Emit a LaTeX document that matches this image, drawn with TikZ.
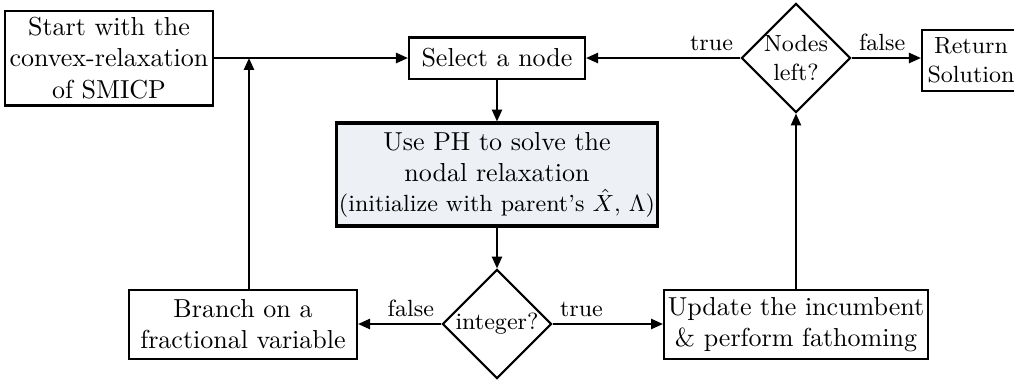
\documentclass[tikz,border=0pt]{standalone}
\usetikzlibrary{arrows.meta,shapes.geometric}
\definecolor{phfill}{RGB}{237,241,245}
\tikzset{
  box/.style={draw, thick, rectangle, align=center, inner sep=1pt},
  decision/.style={draw, thick, diamond, aspect=1, inner sep=0pt,
    minimum width=41.9pt, minimum height=41.9pt},
  dtext/.style={font=\small, align=center, inner sep=0pt},
  flow/.style={thick, -{Triangle[length=4.6pt,width=3.9pt]}},
  edgelabel/.style={font=\small, inner sep=2.5pt},
}
\begin{document}
\begin{tikzpicture}[x=0.3846pt, y=-0.3846pt]
\useasboundingbox (0,0) rectangle (1014,382);
\clip (0,0) rectangle (1014,382);

% top row
\node[box, minimum width=80pt, minimum height=36.5pt] (start) at (109,58)
  {Start with the\\convex-relaxation\\of SMICP};
\node[box, minimum width=67.7pt, minimum height=15.8pt] (select) at (497,58)
  {Select a node};
\node[decision] (nodes) at (796,58) {};
\node[dtext] (nodestext) at (nodes.center) {Nodes\\left?};
\node[box, font=\small, minimum width=37.7pt, minimum height=23.5pt] (return) at (971,60.5)
  {Return\\Solution};

% middle
\node[box, very thick, fill=phfill, minimum width=120.4pt, minimum height=39.6pt] (ph) at (497,174.5)
  {Use PH to solve the\\nodal relaxation\\[-0.5pt]{\small (initialize with parent's $\hat{X}$, $\Lambda$)}};

% bottom row
\node[box, minimum width=87.7pt, minimum height=26.2pt] (branch) at (243,324.5)
  {Branch on a\\fractional variable};
\node[decision] (integer) at (497,324) {};
\node[dtext] (integertext) at (integer.center) {integer?};
\node[box, minimum width=101.5pt, minimum height=26.2pt] (update) at (796,324.5)
  {Update the incumbent\\\& perform fathoming};

\coordinate (join) at (249,58);

% connectors
\draw[flow] (start.east) -- (select.west);
\draw[flow] (branch.north -| join) -- (join);
\draw[flow] (select.south) -- (ph.north);
\draw[flow] (ph.south) -- (integer.north);
\draw[flow] (integer.west) -- node[edgelabel, anchor=south east, pos=0] {false} (integer.west -| branch.east);
\draw[flow] (integer.east) -- node[edgelabel, anchor=south west, pos=0] {true} (integer.east -| update.west);
\draw[flow] (update.north) -- (nodes.south);
\draw[flow] (nodes.west) -- node[edgelabel, anchor=south east, pos=0] {true} (select.east);
\draw[flow] (nodes.east) -- node[edgelabel, anchor=south west, pos=0] {false} (nodes.east -| return.west);
\end{tikzpicture}
\end{document}
